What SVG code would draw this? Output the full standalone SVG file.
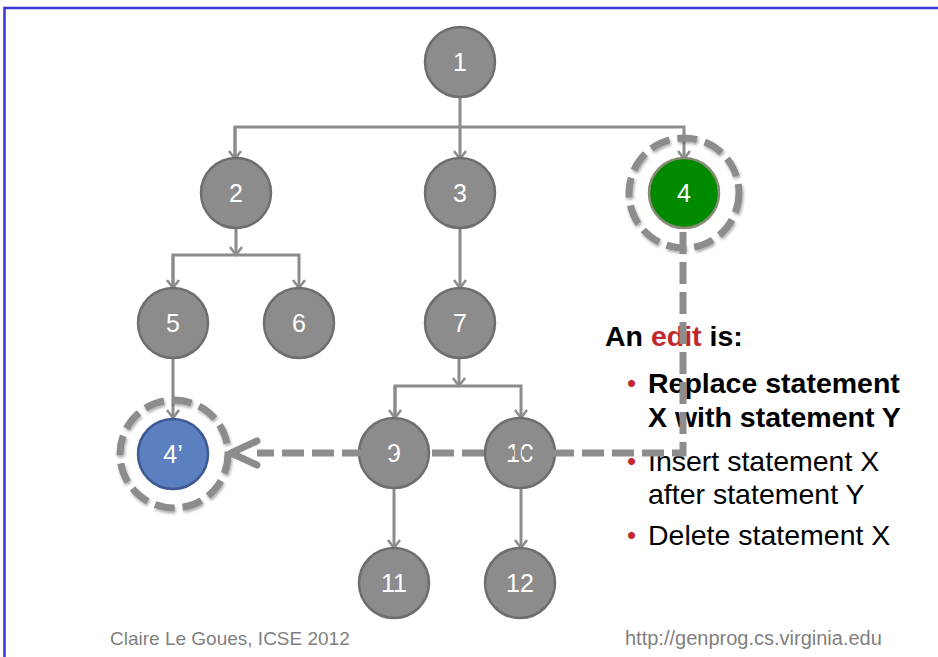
<svg xmlns="http://www.w3.org/2000/svg" width="938" height="657" viewBox="0 0 938 657">
<defs>
<style>
.n{fill:#8c8c8c;stroke:#6e6e6e;stroke-width:2.5}
.lbl{font-family:"Liberation Sans",Arial,sans-serif;font-size:25px;fill:#ffffff;text-anchor:middle}
.c{stroke:#8c8c8c;stroke-width:3;fill:none}
.ring{fill:none;stroke:#8c8c8c;stroke-width:7;stroke-dasharray:20 8}
.dash{fill:none;stroke:#8c8c8c;stroke-width:7;stroke-dasharray:22 8}
.t{font-family:"Liberation Sans",Arial,sans-serif;font-size:28.5px;fill:#000000}
.b{font-weight:bold}
.bul{font-family:"Liberation Sans",Arial,sans-serif;font-size:26px;fill:#c0282d}
.foot{font-family:"Liberation Sans",Arial,sans-serif;font-size:19px;fill:#7f7f7f}
.url{font-size:20px}
</style>
<marker id="arr" viewBox="-10 -7 12 14" refX="0" refY="0" markerWidth="12" markerHeight="14" markerUnits="userSpaceOnUse" orient="auto">
<path d="M-8,-6 L0,0 L-8,6" fill="none" stroke="#8c8c8c" stroke-width="2.5"/>
</marker>
<filter id="sh" x="-20%" y="-20%" width="140%" height="140%">
<feGaussianBlur in="SourceAlpha" stdDeviation="1.5"/>
<feOffset dx="1" dy="2" result="o"/>
<feComponentTransfer><feFuncA type="linear" slope="0.35"/></feComponentTransfer>
<feMerge><feMergeNode/><feMergeNode in="SourceGraphic"/></feMerge>
</filter>
</defs>
<rect width="938" height="657" fill="#ffffff"/>
<path d="M4.5,657 L4.5,8 L938,8" fill="none" stroke="#3636d0" stroke-width="2.5"/>

<g id="connectors">
<path class="c" d="M460,97 L460,159" marker-end="url(#arr)"/>
<path class="c" d="M235,159 L235,127 L684,127 L684,159" marker-end="url(#arr)"/>
<path class="c" d="M235,127 L235,159" marker-end="url(#arr)"/>
<path class="c" d="M236,228 L236,255" marker-end="url(#arr)"/>
<path class="c" d="M173,288 L173,255 L299,255 L299,288" marker-end="url(#arr)"/>
<path class="c" d="M173,255 L173,288" marker-end="url(#arr)"/>
<path class="c" d="M460,228 L460,288" marker-end="url(#arr)"/>
<path class="c" d="M459,358 L459,386" marker-end="url(#arr)"/>
<path class="c" d="M395,418 L395,386 L521,386 L521,418" marker-end="url(#arr)"/>
<path class="c" d="M395,386 L395,418" marker-end="url(#arr)"/>
<path class="c" d="M394,489 L394,548" marker-end="url(#arr)"/>
<path class="c" d="M521,489 L521,548" marker-end="url(#arr)"/>
<path class="c" d="M173,359 L173,418" marker-end="url(#arr)"/>
</g>

<g id="node1"><circle class="n" cx="460" cy="62" r="35"/><text class="lbl" x="460" y="71">1</text></g>
<g id="node2"><circle class="n" cx="236" cy="193" r="35"/><text class="lbl" x="236" y="202">2</text></g>
<g id="node3"><circle class="n" cx="460" cy="193" r="35"/><text class="lbl" x="460" y="202">3</text></g>
<g id="node4">
<circle class="ring" cx="684" cy="193" r="55" filter="url(#sh)"/>
<circle cx="684" cy="193" r="35" fill="#008a00" stroke="#8a8a78" stroke-width="2.5"/>
<text class="lbl" x="684" y="202">4</text></g>
<g id="node5"><circle class="n" cx="173" cy="323" r="35"/><text class="lbl" x="173" y="332">5</text></g>
<g id="node6"><circle class="n" cx="299" cy="323" r="35"/><text class="lbl" x="299" y="332">6</text></g>
<g id="node7"><circle class="n" cx="460" cy="323" r="35"/><text class="lbl" x="460" y="332">7</text></g>
<g id="node4p">
<circle class="ring" cx="174" cy="454" r="54" filter="url(#sh)"/>
<circle cx="173" cy="454" r="35" fill="#5b7fbf" stroke="#3e5a94" stroke-width="2.5"/>
<text class="lbl" x="173" y="463">4’</text></g>
<g id="node9"><circle class="n" cx="394" cy="453" r="35"/><text class="lbl" x="394" y="462">9</text></g>
<g id="node10"><circle class="n" cx="520" cy="453" r="35"/><text class="lbl" x="520" y="462">10</text></g>
<g id="node11"><circle class="n" cx="394" cy="583" r="35"/><text class="lbl" x="394" y="592">11</text></g>
<g id="node12"><circle class="n" cx="520" cy="583" r="35"/><text class="lbl" x="520" y="592">12</text></g>

<g id="text">
<text class="t b" x="605" y="346">An <tspan fill="#c0282d">edit</tspan> is:</text>
<text class="bul" x="627" y="392">•</text>
<text class="t b" x="648" y="393">Replace statement</text>
<text class="t b" x="648" y="427">X with statement Y</text>
<text class="bul" x="627" y="470">•</text>
<text class="t" x="648" y="471">Insert statement X</text>
<text class="t" x="648" y="504">after statement Y</text>
<text class="bul" x="627" y="544">•</text>
<text class="t" x="648" y="545">Delete statement X</text>
</g>

<g id="edit-connector">
<path class="dash" d="M683,232 L683,453 L257,453"/>
<path d="M257,441 L231,453 L257,465" fill="none" stroke="#8c8c8c" stroke-width="7" stroke-linecap="round" stroke-linejoin="round"/>
</g>

<text class="foot" x="110" y="645">Claire Le Goues, ICSE 2012</text>
<text class="foot url" x="625" y="645">http://genprog.cs.virginia.edu</text>
</svg>
